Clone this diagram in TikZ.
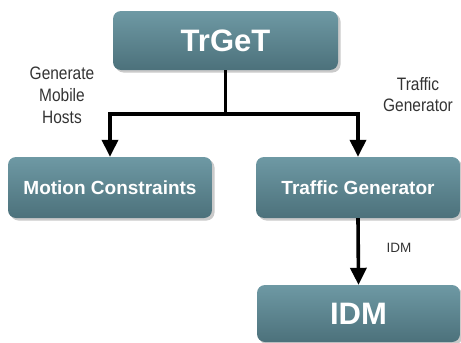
\documentclass[tikz,border=0pt]{standalone}
\usepackage{fontspec}
\setmainfont{Liberation Sans}
\newfontfamily\notefont[FakeStretch=0.86]{Liberation Sans}
\usetikzlibrary{arrows.meta,shadows}

\definecolor{boxtop}{HTML}{6E99A4}
\definecolor{boxbottom}{HTML}{4C717B}
\definecolor{notegray}{HTML}{333333}

\tikzset{
  block/.style={rounded corners=8pt, top color=boxtop, bottom color=boxbottom,
    draw=none, text=white, font=\bfseries, inner sep=0pt,
    drop shadow={shadow xshift=2.5pt, shadow yshift=-2.5pt, opacity=0.35, fill=black!60}},
  link/.style={line width=3.6pt, -{Triangle[width=16pt,length=17pt]}},
  note/.style={text=notegray, align=center, inner sep=0pt}
}

\begin{document}
\begin{tikzpicture}[x=1pt, y=-1pt]
  \useasboundingbox (0,0) rectangle (461,343);

  % boxes
  \node[block, minimum width=225pt, minimum height=59pt,
        font=\bfseries\fontsize{31}{31}\selectfont] (trget) at (225.5,40.5) {TrGeT};
  \node[block, minimum width=204pt, minimum height=61pt,
        font=\bfseries\fontsize{19}{19}\selectfont] (motion) at (110,187.5) {Motion Constraints};
  \node[block, minimum width=204pt, minimum height=61pt,
        font=\bfseries\fontsize{19}{19}\selectfont] (traffic) at (358,187.5) {Traffic Generator};
  \node[block, minimum width=203pt, minimum height=57pt,
        font=\bfseries\fontsize{31}{31}\selectfont] (idm) at (358.5,313.5) {IDM};

  % connectors
  \coordinate (split) at (225.5,114);
  \draw[line width=3.6pt] (trget.south) -- (split);
  \draw[link] (split) -| (motion.north);
  \draw[link] (split) -| (traffic.north);
  \draw[link] (traffic.south) -- (idm.north);

  % labels
  \node[note, font=\notefont\fontsize{18}{22}\selectfont] (lblhosts) at (62,95)
    {Generate\\Mobile\\Hosts};
  \node[note, font=\notefont\fontsize{18}{21}\selectfont] (lbltraffic) at (418,94.5)
    {Traffic\\Generator};
  \node[note, font=\fontsize{13.5}{13.5}\selectfont] (lblidm) at (399,248) {IDM};
\end{tikzpicture}
\end{document}
